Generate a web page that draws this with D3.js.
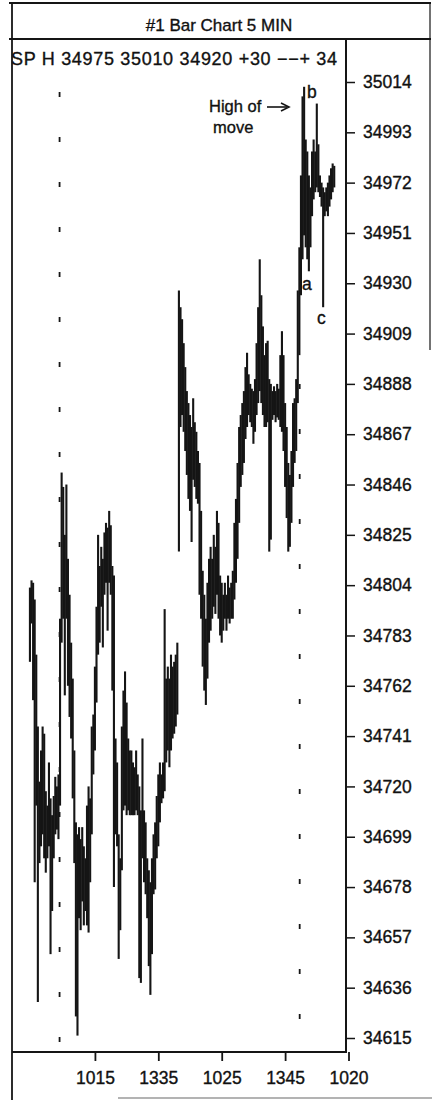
<!DOCTYPE html>
<html>
<head>
<meta charset="utf-8">
<script src="https://cdn.jsdelivr.net/npm/d3@7"></script>
<style>
  body { margin: 0; background: #fff; }
  text { font-family: "Liberation Sans", Arial, Helvetica, sans-serif; fill: #111; stroke: #111; stroke-width: 0.35px; }
</style>
</head>
<body>
<div id="chart-area"></div>
<script>
// ---- data ----
var titleText = "#1 Bar Chart 5 MIN";
var quoteText = "SP H  34975 35010 34920 +30 \u2212\u2212+ 34";

// y axis labels (price)
var priceTicks = [35014, 34993, 34972, 34951, 34930, 34909, 34888, 34867, 34846, 34825,
                  34804, 34783, 34762, 34741, 34720, 34699, 34678, 34657, 34636, 34615];

// x axis labels (time of 5 min bar) and the bar number they sit on
var timeLabels = ["1015", "1335", "1025", "1345", "1020"];
var timeBars = [52, 92, 132, 172, 212];

// dotted session lines (bar number)
var sessionBars = [29.7, 181.2];

// 5 min bars, first one is bar number 11
var firstBar = 11;
var highs = [
  34803, 34806, 34805, 34798, 34775, 34745, 34722, 34735, 34745, 34742,
  34718, 34712, 34730, 34715, 34708, 34716, 34724, 34720, 34725, 34790,
  34851, 34845, 34825, 34846, 34815, 34800, 34780, 34765, 34735, 34705,
  34700, 34703, 34698, 34703, 34695, 34690, 34712, 34720, 34715, 34745,
  34750, 34770, 34795, 34825, 34812, 34820, 34815, 34826, 34830, 34828,
  34835, 34829, 34812, 34808, 34740, 34730, 34700, 34690, 34745, 34760,
  34768, 34755, 34740, 34735, 34735, 34730, 34728, 34735, 34725, 34720,
  34710, 34740, 34710, 34705, 34690, 34685, 34680, 34690, 34700, 34705,
  34716, 34725, 34730, 34725, 34730, 34794, 34765, 34770, 34765, 34775,
  34770, 34772, 34775, 34780, 34927, 34920, 34915, 34905, 34895, 34885,
  34880, 34875, 34870, 34882, 34872, 34868, 34860, 34855, 34835, 34810,
  34800, 34790, 34805, 34815, 34820, 34815, 34825, 34820, 34835, 34830,
  34808, 34805, 34800, 34805, 34800, 34808, 34803, 34805, 34810, 34830,
  34840, 34855, 34870, 34875, 34880, 34885, 34895, 34901, 34892, 34888,
  34886, 34885, 34890, 34905, 34920, 34940, 34925, 34912, 34900, 34905,
  34906, 34890, 34888, 34885, 34887, 34885, 34888, 34886, 34900, 34910,
  34900, 34880, 34870, 34855, 34850, 34860, 34880, 34882, 34890, 34927,
  34945, 34975, 35008, 35012, 34990, 34985, 34975, 34970, 34985, 34990,
  34985, 35005, 34988, 34975, 34972, 34970, 34968, 34970, 34972, 34975,
  34978, 34980, 34979
];
var lows = [
  34772, 34788, 34756, 34680, 34712, 34630, 34688, 34695, 34700, 34690,
  34684, 34690, 34695, 34650, 34668, 34690, 34700, 34702, 34698, 34712,
  34780, 34790, 34758, 34790, 34762, 34749, 34740, 34715, 34688, 34624,
  34616, 34665, 34660, 34672, 34662, 34668, 34662, 34659, 34680, 34700,
  34725, 34735, 34755, 34775, 34780, 34795, 34778, 34800, 34805, 34785,
  34805, 34800, 34760, 34678, 34700, 34695, 34648, 34660, 34685, 34710,
  34712, 34708, 34710, 34708, 34708, 34708, 34708, 34710, 34708, 34640,
  34638, 34690, 34680, 34675, 34665, 34645, 34633, 34650, 34675, 34677,
  34690, 34695, 34705, 34713, 34715, 34718, 34730, 34735, 34728, 34735,
  34740, 34742, 34745, 34750, 34818, 34870, 34875, 34868, 34860, 34850,
  34840, 34835, 34822, 34848, 34845, 34840, 34838, 34800, 34790, 34770,
  34760, 34754, 34765, 34780, 34785, 34790, 34795, 34792, 34800, 34790,
  34783, 34780, 34785, 34790, 34785, 34790, 34788, 34790, 34790, 34798,
  34805, 34815, 34830, 34845, 34850, 34855, 34865, 34870, 34875, 34872,
  34870, 34863, 34868, 34875, 34880, 34885, 34880, 34875, 34870, 34870,
  34872, 34818, 34823, 34873, 34875, 34872, 34874, 34873, 34870, 34868,
  34860, 34845, 34832, 34818, 34820, 34830, 34845, 34855, 34860, 34880,
  34900, 34925, 34940, 34950, 34945, 34940, 34935, 34945, 34958, 34965,
  34968, 34970, 34968, 34966, 34962, 34920, 34958, 34960, 34958, 34962,
  34965, 34968, 34970
];

// ---- sizes ----
var W = 432, H = 1100;
var frame = { left: 12, right: 430, top: 3, titleBottom: 39 };
var plot = { left: 12, right: 346, top: 39, bottom: 1052 };

var svg = d3.select("#chart-area").append("svg")
    .attr("width", W)
    .attr("height", H);

svg.append("rect").attr("width", W).attr("height", H).attr("fill", "#fff");

// scales
var x = d3.scaleLinear()
    .domain([0, 212])
    .range([12.5, 348.5]);

var y = d3.scaleLinear()
    .domain([34615, 35014])
    .range([1038, 82]);

var bars = highs.map(function(h, i) {
    return { bar: firstBar + i, high: h, low: lows[i] };
});

// frame lines
var ink = "#151515";
function line(x1, y1, x2, y2, w, col) {
    svg.append("line")
        .attr("x1", x1).attr("y1", y1).attr("x2", x2).attr("y2", y2)
        .attr("stroke", col || ink)
        .attr("stroke-width", w);
}
line(9, frame.top, 431, frame.top, 1.8);
line(9, frame.titleBottom, 431, frame.titleBottom, 1.8);
line(frame.left, frame.top, frame.left, H, 1.8);
line(frame.right, frame.top, frame.right, 350, 1.2);
line(118, 1098, W, 1098, 1.5, "#9a9a9a");

// title
svg.append("text")
    .attr("x", 219)
    .attr("y", 31)
    .attr("text-anchor", "middle")
    .attr("font-size", "17px")
    .text(titleText);

// quote line
svg.append("text")
    .attr("x", 11)
    .attr("y", 65)
    .attr("font-size", "18px")
    .attr("textLength", 326)
    .attr("lengthAdjust", "spacing")
    .text(quoteText);

// dotted session lines
svg.selectAll(".session")
    .data(sessionBars).enter()
    .append("line")
        .attr("class", "session")
        .attr("x1", function(d) { return x(d); })
        .attr("x2", function(d) { return x(d); })
        .attr("y1", function(d, i) { return i == 0 ? 92 : 384; })
        .attr("y2", 1042)
        .attr("stroke", ink)
        .attr("stroke-width", 1.8)
        .attr("stroke-dasharray", "5,40");

// the price bars (high to low)
svg.selectAll(".bar")
    .data(bars).enter()
    .append("line")
        .attr("class", "bar")
        .attr("x1", function(d) { return x(d.bar); })
        .attr("x2", function(d) { return x(d.bar); })
        .attr("y1", function(d) { return y(d.high); })
        .attr("y2", function(d) { return y(d.low); })
        .attr("stroke", ink)
        .attr("stroke-width", 2.1);

// y axis on the right
var yAxis = svg.append("g")
    .attr("transform", "translate(" + plot.right + " 0)")
    .call(d3.axisRight(y)
        .tickValues(priceTicks)
        .tickFormat(d3.format("d"))
        .tickSize(9)
        .tickSizeOuter(0)
        .tickPadding(8));
yAxis.select(".domain").remove();
yAxis.selectAll(".tick line").attr("stroke", ink).attr("stroke-width", 1.5);
yAxis.selectAll(".tick text")
    .attr("font-size", "17.5px")
    .attr("fill", "#111")
    .attr("font-family", "Liberation Sans, Arial, sans-serif");
line(plot.right, plot.top, plot.right, plot.bottom, 2);

// x axis at the bottom
var xAxis = svg.append("g")
    .attr("transform", "translate(0 " + plot.bottom + ")")
    .call(d3.axisBottom(x)
        .tickValues(timeBars)
        .tickFormat(function(d, i) { return timeLabels[i]; })
        .tickSize(9)
        .tickSizeOuter(0)
        .tickPadding(11));
xAxis.select(".domain").remove();
xAxis.selectAll(".tick line").attr("stroke", ink).attr("stroke-width", 1.8);
xAxis.selectAll(".tick text")
    .attr("font-size", "17.5px")
    .attr("fill", "#111")
    .attr("font-family", "Liberation Sans, Arial, sans-serif");
line(plot.left, plot.bottom, plot.right + 1, plot.bottom, 2);

// annotations
svg.append("text").attr("x", 209).attr("y", 112).attr("font-size", "16.5px").text("High of");
svg.append("text").attr("x", 213).attr("y", 133).attr("font-size", "16.5px").text("move");
svg.append("line")
    .attr("x1", 267).attr("y1", 107).attr("x2", 287).attr("y2", 107)
    .attr("stroke", ink).attr("stroke-width", 1.6);
svg.append("path")
    .attr("d", "M281,103 L289,107 L281,111")
    .attr("fill", "none").attr("stroke", ink).attr("stroke-width", 1.6);
svg.append("text").attr("x", 307).attr("y", 98).attr("font-size", "17.5px").text("b");
svg.append("text").attr("x", 302).attr("y", 290).attr("font-size", "17.5px").text("a");
svg.append("text").attr("x", 317).attr("y", 324).attr("font-size", "17.5px").text("c");
</script>
</body>
</html>
